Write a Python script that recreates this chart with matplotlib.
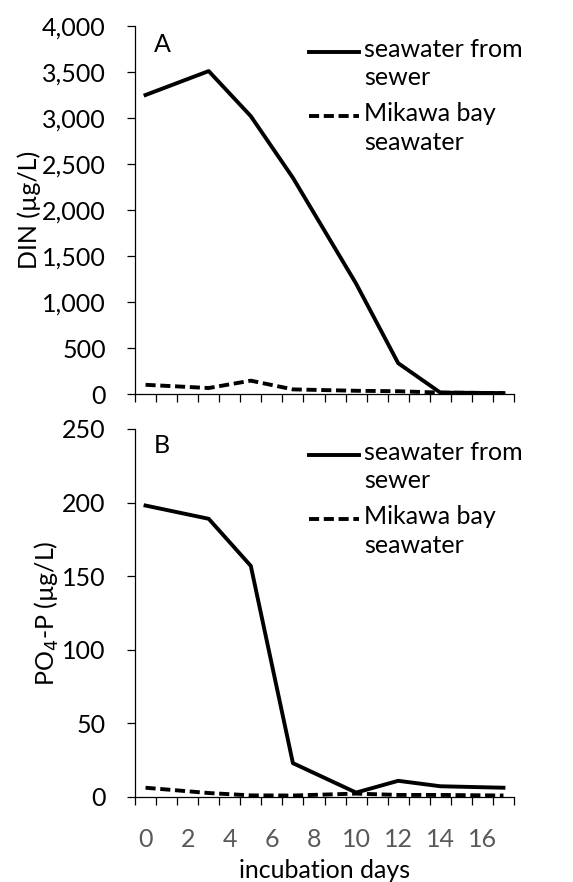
import matplotlib.pyplot as plt
from matplotlib.ticker import FuncFormatter, FixedLocator

plt.rcParams['font.family'] = ['Lato', 'DejaVu Sans']

days = [0, 3, 5, 7, 10, 12, 14, 17]
din_sewer = [3250, 3510, 3020, 2350, 1200, 335, 15, 10]
din_bay = [100, 65, 145, 50, 35, 30, 15, 10]
po4_sewer = [198, 189, 157, 23, 3, 11, 7.3, 6.3]
po4_bay = [6.3, 2.7, 1.1, 1.0, 2.3, 1.4, 1.4, 1.0]

x_ticks = list(range(0, 17, 2))
legend_labels = [["seawater from", "sewer"], ["Mikawa bay", "seawater"]]

FS = 18
LW = 2.8
DASH = (2.6, 1.2)
W, H = 573, 882

fig = plt.figure(figsize=(W / 100, H / 100), dpi=100)
ax1 = fig.add_axes([135 / W, 1 - 394 / H, 379 / W, 368 / H])
ax2 = fig.add_axes([135 / W, 1 - 797 / H, 379 / W, 368 / H])


def style(ax, ymax, ystep, show_x):
    for s in ['top', 'right']:
        ax.spines[s].set_visible(False)
    ax.spines['left'].set_linewidth(0.9)
    ax.spines['bottom'].set_linewidth(0.9)
    ax.set_xlim(-0.5, 17.5)
    ax.set_ylim(0, ymax)
    ax.set_yticks(range(0, ymax + 1, ystep))
    ax.yaxis.set_major_formatter(FuncFormatter(lambda v, p: f"{int(v):,}"))
    ax.tick_params(axis='y', length=6, width=0.9, pad=15, labelsize=FS)
    ax.xaxis.set_major_locator(FixedLocator(x_ticks))
    ax.xaxis.set_minor_locator(FixedLocator([i - 0.5 for i in range(19)]))
    ax.tick_params(axis='x', which='major', length=0, pad=22,
                   labelsize=FS, labelcolor='#595959', labelbottom=show_x)
    ax.tick_params(axis='x', which='minor', length=6, width=0.9)


def legend(ax, y0):
    # Excel-style legend: handle aligned with first text line
    for k, lines in enumerate(legend_labels):
        yy = y0 - k * 0.174
        if k == 0:
            ax.plot([0.46, 0.59], [yy, yy], transform=ax.transAxes,
                    color='black', lw=LW, clip_on=False)
        else:
            ax.plot([0.46, 0.59], [yy, yy], transform=ax.transAxes,
                    color='black', lw=LW, ls='--', dashes=DASH,
                    clip_on=False)
        ax.text(0.605, yy + 0.038, "\n".join(lines), transform=ax.transAxes,
                fontsize=FS, va='top', ha='left', linespacing=1.3)


style(ax1, 4000, 500, False)
ax1.plot(days, din_sewer, color='black', lw=LW)
ax1.plot(days, din_bay, color='black', lw=LW, ls='--', dashes=DASH)
ax1.set_ylabel("DIN (µg/L)", fontsize=FS, labelpad=1)
ax1.text(0.05, 0.95, "A", transform=ax1.transAxes, fontsize=FS, va='center')
legend(ax1, 0.93)

style(ax2, 250, 50, True)
ax2.plot(days, po4_sewer, color='black', lw=LW)
ax2.plot(days, po4_bay, color='black', lw=LW, ls='--', dashes=DASH)
ax2.set_ylabel("PO$_4$-P (µg/L)", fontsize=FS, labelpad=1)
ax2.set_xlabel("incubation days", fontsize=FS, labelpad=6)
ax2.text(0.05, 0.955, "B", transform=ax2.transAxes, fontsize=FS, va='center')
legend(ax2, 0.93)

fig.savefig("out.png", dpi=100)
